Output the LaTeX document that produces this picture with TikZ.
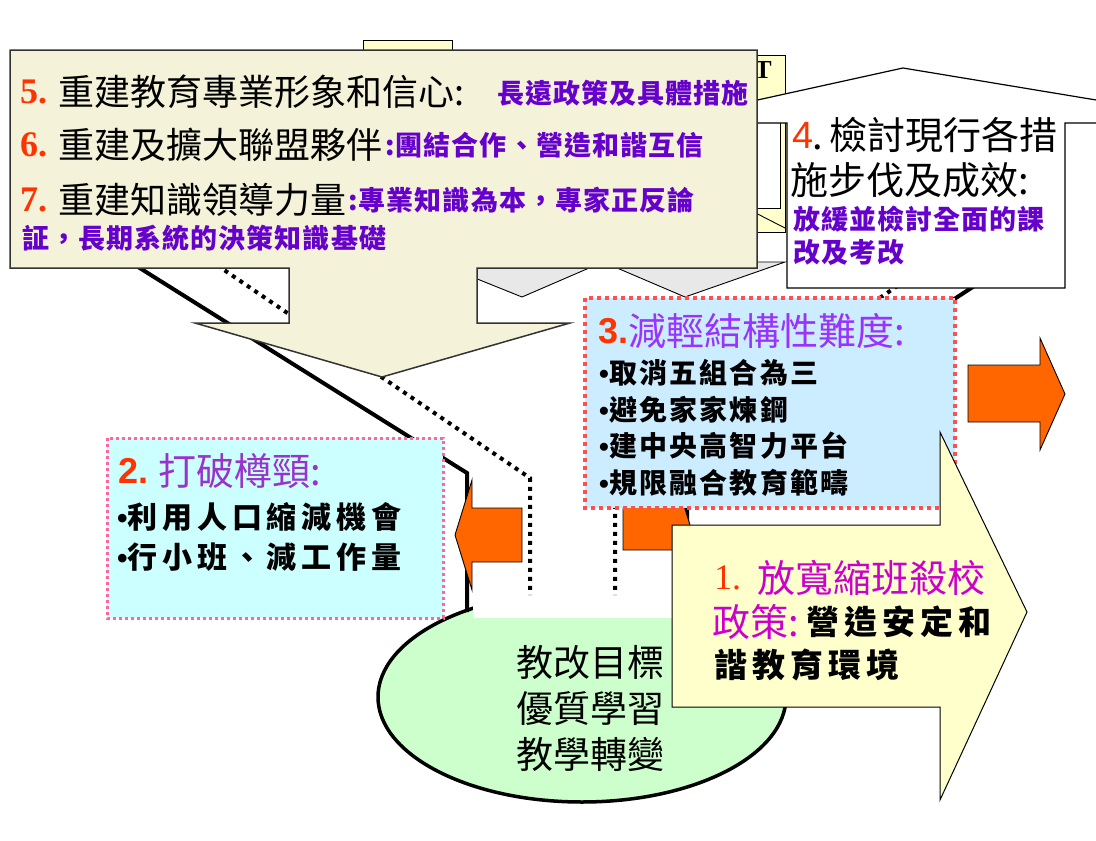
\documentclass[tikz,border=0pt]{standalone}
\usepackage{fontspec}
\usetikzlibrary{shapes.geometric}
\newfontfamily\cjk{Noto Sans CJK TC}
\newfontfamily\cjkA{Noto Sans CJK TC}[LetterSpace=4]
\newfontfamily\cjkB{Noto Sans CJK TC}[LetterSpace=8]
\newfontfamily\cjkC{Noto Sans CJK TC}[LetterSpace=16]
\newfontfamily\cjkD{Noto Sans CJK TC}[LetterSpace=15]
\newfontfamily\serf{Liberation Serif}
\newfontfamily\sanf{Liberation Sans}
\newcommand\fsz[2]{\fontsize{#1}{#2}\selectfont}
\newcommand\bul{{\sanf\bfseries •}}
\definecolor{beige}{HTML}{F4F2D8}
\definecolor{ltyel}{HTML}{FFFFCC}
\definecolor{cyanL}{HTML}{CCFFFF}
\definecolor{blueL}{HTML}{CCECFF}
\definecolor{greenL}{HTML}{CCFFCC}
\definecolor{orng}{HTML}{FF6600}
\definecolor{grayL}{HTML}{E8E8E8}
\definecolor{numred}{HTML}{FF3300}
\definecolor{purp}{HTML}{6600CC}
\definecolor{vioA}{HTML}{9933CC}
\definecolor{vioB}{HTML}{9933FF}
\definecolor{mag}{HTML}{CC00CC}
\definecolor{pinkd}{HTML}{FF6699}
\definecolor{redd}{HTML}{FF5050}
\begin{document}
\begin{tikzpicture}[x=1pt,y=-1pt,
  txt/.style={inner sep=0pt, anchor=west},
  thinline/.style={draw=black, line width=0.9pt},
  funnel/.style={draw=black, line width=4pt},
  dotline/.style={draw=black, line width=4pt, dash pattern=on 4pt off 5pt},
  arrowshape/.style={fill=orng, draw=black, line width=0.9pt},
  boxfive/.style={fill=beige, draw=black!80, line width=1.5pt},
  whitebox/.style={fill=white, draw=black, line width=1.2pt},
  yelbox/.style={fill=ltyel, draw=black, line width=1pt},
  pinkbox/.style={fill=cyanL, draw=pinkd, line width=3pt, dash pattern=on 3pt off 3pt},
  redbox/.style={fill=blueL, draw=redd, line width=4pt, dash pattern=on 4pt off 4pt},
  bigtxt/.style={txt, font=\cjk\fsz{36}{40}},
  smallpurp/.style={txt, font=\cjkA\bfseries\fsz{27}{30}, text=purp},
  bullettxt/.style={txt, font=\cjkB\bfseries\fsz{28}{32}},
]
\clip (0,0) rectangle (1096,841);
\fill[white] (0,0) rectangle (1096,841);

% hidden background pieces
\draw[thinline, fill=ltyel] (363,40) rectangle (452,130);
\draw[thinline, fill=ltyel] (700,55) rectangle (785,232);
\draw[thinline, fill=white] (700,122) rectangle (780,208);
\draw[thinline] (740,205) -- (785,228);
\node[inner sep=0pt, font=\serf\bfseries\fsz{26}{28}] (tT) at (763,70) {T};
\draw[thinline, fill=grayL] (435,262) -- (785,262) -- (685,297) -- (603,262) -- (522,297) -- cycle;

% goal ellipse
\node[ellipse, draw=black, line width=3.5pt, fill=greenL, minimum width=408pt, minimum height=210pt, inner sep=0pt] (ell) at (582,697) {};
\fill[white] (473,440) rectangle (682,618);

% funnel
\draw[funnel] (95,240) -- (467,473) -- (467,612);
\draw[funnel] (1045,240) -- (687,473) -- (687,612);
\draw[dotline] (180,240) -- (530,478) -- (530,595);
\draw[dotline] (965,240) -- (615,478) -- (615,595);

% orange arrows
\draw[arrowshape] (522,508) -- (472,508) -- (472,480) -- (455,535) -- (472,590) -- (472,562) -- (522,562) -- cycle;
\draw[arrowshape] (623,498) -- (673,498) -- (673,470) -- (690,525) -- (673,580) -- (673,550) -- (623,550) -- cycle;

\node[txt, font=\cjk\fsz{37}{46}, align=center, anchor=center] (goal) at (590,709) {教改目標\\優質學習\\教學轉變};

% box 2
\draw[pinkbox] (107,438) rectangle (443,618);
\node[txt, font=\sanf\bfseries\fsz{36}{40}, text=numred] (n2) at (118,471) {2.};
\node[txt, font=\cjk\fsz{38}{42}, text=vioA] (t2) at (158,471) {打破樽頸:};
\node[txt, font=\cjkC\bfseries\fsz{30}{34}] (b2a) at (117,517) {\bul 利用人口縮減機會};
\node[txt, font=\cjkC\bfseries\fsz{30}{34}] (b2b) at (117,557) {\bul 行小班、減工作量};

% box 3
\draw[redbox] (585,298) rectangle (955,508);
\node[txt, font=\sanf\bfseries\fsz{36}{40}, text=numred] (n3) at (598,331) {3.};
\node[txt, font=\cjk\fsz{38}{42}, text=vioB] (t3) at (628,331) {減輕結構性難度:};
\node[bullettxt] (b3a) at (599,373) {\bul 取消五組合為三};
\node[bullettxt] (b3b) at (599,410) {\bul 避免家家煉鋼};
\node[bullettxt] (b3c) at (599,446) {\bul 建中央高智力平台};
\node[bullettxt] (b3d) at (599,483) {\bul 規限融合教育範疇};

% box 1
\draw[yelbox] (672,525) -- (940,525) -- (940,432) -- (1027,612) -- (940,800) -- (940,707) -- (672,707) -- cycle;
\node[txt, font=\serf\fsz{36}{40}, text=numred] (n1) at (714,578) {1.};
\node[txt, font=\cjk\fsz{38}{42}, text=mag] (t1a) at (757,578) {放寬縮班殺校};
\node[txt, font=\cjk\fsz{38}{42}, text=mag] (t1b) at (712,622) {政策:};
\node[txt, font=\cjkD\bfseries\fsz{33}{36}] (t1c) at (806,622) {營造安定和};
\node[txt, font=\cjkD\bfseries\fsz{33}{36}] (t1d) at (714,665) {諧教育環境};

% box 4
\draw[whitebox] (787,288) -- (787,123) -- (653,123) -- (903,68) -- (1235,123) -- (1065,123) -- (1065,288) -- cycle;
\node[txt, font=\sanf\fsz{38}{42}, text=numred] (n4) at (792,135) {4};
\node[txt, font=\cjk\fsz{38}{42}] (t4a) at (812,135) {.\,檢討現行各措};
\node[txt, font=\cjk\fsz{38}{42}] (t4b) at (790,180) {施步伐及成效:};
\node[smallpurp] (p4a) at (793,219) {放緩並檢討全面的課};
\node[smallpurp] (p4b) at (793,252) {改及考改};

% box 5
\draw[boxfive] (10,50) -- (757,50) -- (757,268) -- (477,268) -- (477,323) -- (570,323) -- (382,377) -- (195,323) -- (289,323) -- (289,268) -- (10,268) -- cycle;
\node[txt, font=\serf\bfseries\fsz{36}{40}, text=numred] (n5) at (20,92) {5.};
\node[bigtxt] (t5) at (58,92) {重建教育專業形象和信心:};
\node[smallpurp] (p5) at (497,93) {長遠政策及具體措施};
\node[txt, font=\serf\bfseries\fsz{36}{40}, text=numred] (n6) at (20,145) {6.};
\node[bigtxt] (t6) at (58,145) {重建及擴大聯盟夥伴};
\node[smallpurp] (p6) at (385,145) {:團結合作、營造和諧互信};
\node[txt, font=\serf\bfseries\fsz{36}{40}, text=numred] (n7) at (20,200) {7.};
\node[bigtxt] (t7) at (58,200) {重建知識領導力量};
\node[smallpurp] (p7) at (348,200) {:專業知識為本，專家正反論};
\node[smallpurp] (p7b) at (22,238) {証，長期系統的決策知識基礎};

% right arrow
\draw[arrowshape] (968,365) -- (1040,365) -- (1040,338) -- (1065,394) -- (1040,450) -- (1040,422) -- (968,422) -- cycle;
\end{tikzpicture}
\end{document}
